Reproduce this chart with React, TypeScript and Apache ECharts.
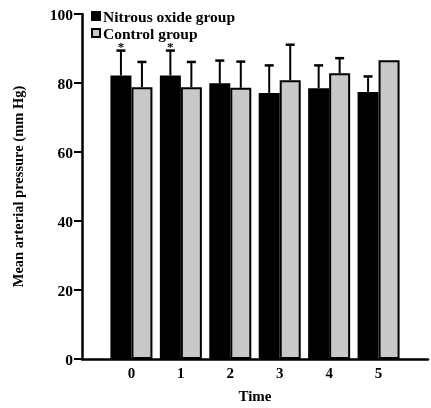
import React, { useEffect, useRef } from "react";
import * as echarts from "echarts";

const timePoints = [0, 1, 2, 3, 4, 5];
const nitrousMean = [82.2, 82.2, 79.9, 77.1, 78.5, 77.4];
const nitrousSD = [7.2, 7.2, 6.6, 8.0, 6.6, 4.5];
const controlMean = [78.8, 78.8, 78.6, 80.8, 82.8, 86.6];
const controlSD = [7.3, 7.3, 7.6, 10.3, 4.4, 0];
const significant = [true, true, false, false, false, false];

const FONT = "Liberation Serif";

export default function App() {
  const ref = useRef<HTMLDivElement>(null);
  useEffect(() => {
    const chart = echarts.init(ref.current!, null, { renderer: "svg" });
    const OFF = 10.5;
    const errSeries = (means: number[], sds: number[], side: number, name: string) => ({
      type: "custom",
      name,
      data: timePoints.map((t, i) => [t, means[i], sds[i]]),
      z: 1,
      renderItem: (params: any, api: any) => {
        const x = api.value(0);
        const m = api.value(1);
        const sd = api.value(2);
        if (!sd) return { type: "group", children: [] };
        const p0 = api.coord([x, m]);
        const p1 = api.coord([x, m + sd]);
        const cx = p0[0] + side * OFF;
        return {
          type: "group",
          children: [
            { type: "line", shape: { x1: cx, y1: p0[1], x2: cx, y2: p1[1] }, style: { stroke: "#000", lineWidth: 2 } },
            { type: "line", shape: { x1: cx - 4.5, y1: p1[1], x2: cx + 4.5, y2: p1[1] }, style: { stroke: "#000", lineWidth: 2.5 } },
          ],
        };
      },
    });
    chart.setOption({
      animation: false,
      grid: { left: 82, top: 14, bottom: 46, width: 352 },
      legend: {
        orient: "vertical",
        left: 86,
        top: 3,
        itemWidth: 8,
        itemHeight: 8,
        itemGap: 1,
        icon: "rect",
        data: ["Nitrous oxide group", "Control group"],
        textStyle: { fontFamily: FONT, fontWeight: "bold", fontSize: 15.5, color: "#000", padding: [0, 0, 0, -2] },
      },
      xAxis: {
        type: "value",
        min: -1,
        max: 6,
        interval: 1,
        name: "Time",
        nameLocation: "middle",
        nameGap: 29,
        nameTextStyle: { fontFamily: FONT, fontWeight: "bold", fontSize: 15, color: "#000" },
        splitLine: { show: false },
        axisTick: { show: false },
        axisLine: { onZero: false, lineStyle: { color: "#000", width: 2.5 } },
        axisLabel: {
          fontFamily: FONT,
          fontWeight: "bold",
          fontSize: 15,
          color: "#000",
          margin: 6,
          formatter: (v: number) => (v >= 0 && v <= 5 ? String(v) : ""),
        },
      },
      yAxis: {
        type: "value",
        min: 0,
        max: 100,
        interval: 20,
        name: "Mean arterial pressure (mm Hg)",
        nameLocation: "middle",
        nameGap: 57,
        nameTextStyle: { fontFamily: FONT, fontWeight: "bold", fontSize: 14.5, color: "#000" },
        splitLine: { show: false },
        axisLine: { show: true, onZero: false, lineStyle: { color: "#000", width: 2.5 } },
        axisTick: { show: true, length: 8, lineStyle: { color: "#000", width: 2 } },
        axisLabel: { fontFamily: FONT, fontWeight: "bold", fontSize: 15.5, color: "#000", margin: 9 },
      },
      series: [
        {
          type: "bar",
          name: "Nitrous oxide group",
          data: timePoints.map((t, i) => [t, nitrousMean[i]]),
          barWidth: 21,
          barGap: "0%",
          itemStyle: { color: "#000", borderColor: "#000", borderWidth: 2 },
          z: 2,
        },
        {
          type: "bar",
          name: "Control group",
          data: timePoints.map((t, i) => [t, controlMean[i]]),
          barWidth: 21,
          barGap: "0%",
          itemStyle: { color: "#c8c8c8", borderColor: "#000", borderWidth: 2 },
          z: 2,
        },
        errSeries(nitrousMean, nitrousSD, -1, "errN"),
        errSeries(controlMean, controlSD, 1, "errC"),
        {
          type: "custom",
          name: "sig",
          z: 5,
          data: timePoints.map((t, i) => [t, significant[i] ? nitrousMean[i] + nitrousSD[i] : 0]),
          renderItem: (params: any, api: any) => {
            const v = api.value(1);
            if (!v) return { type: "group", children: [] };
            const p = api.coord([api.value(0), v]);
            return {
              type: "text",
              style: {
                x: p[0] - OFF,
                y: p[1] - 4,
                text: "*",
                fontFamily: FONT,
                fontWeight: "bold",
                fontSize: 13,
                lineHeight: 6,
                fill: "#000",
                align: "center",
                verticalAlign: "middle",
              },
            };
          },
        },
      ],
    });
    return () => chart.dispose();
  }, []);
  return <div ref={ref} style={{ position: "fixed", left: 0, top: 0, width: 431, height: 408 }} />;
}
